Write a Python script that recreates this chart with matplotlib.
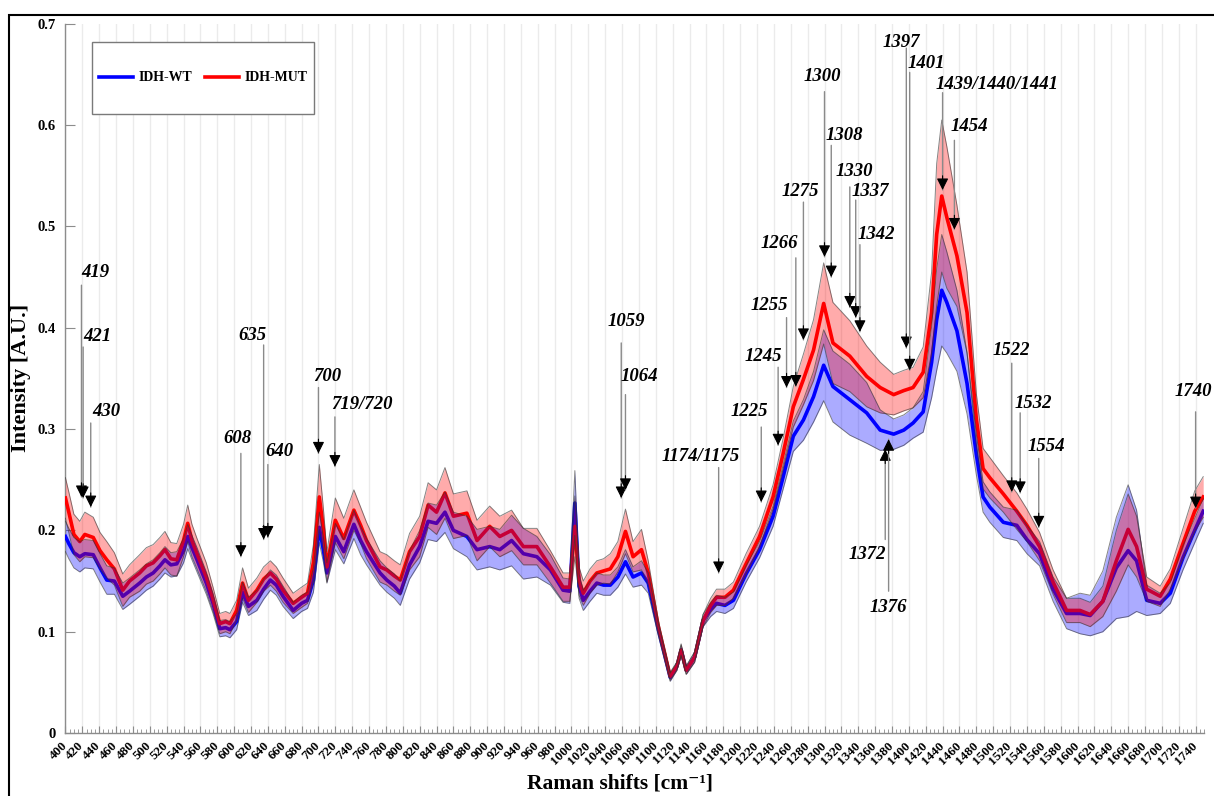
import matplotlib
matplotlib.use('Agg')
import matplotlib.pyplot as plt
from matplotlib.patches import Rectangle
from matplotlib.lines import Line2D
from matplotlib.ticker import MultipleLocator, FixedLocator

plt.rcParams['font.family'] = ['Liberation Serif', 'DejaVu Serif']
plt.rcParams['font.weight'] = 'bold'

# ---------------- data ----------------
wavenumber = [400, 404, 410, 417, 423, 433, 441, 449, 458, 468, 476, 488, 496, 504, 512, 518,
              525, 532, 540, 545, 550, 556, 567, 575, 583, 590, 595, 603, 610, 617, 627, 635,
              643, 650, 658, 670, 680, 687, 694, 701, 706, 710, 720, 730, 742, 750, 757, 773,
              781, 790, 797, 808, 820, 830, 840, 850, 860, 876, 888, 903, 915, 929, 943, 959,
              975, 990, 998, 1004, 1009, 1014, 1022, 1030, 1038, 1046, 1055, 1064, 1073, 1083,
              1091, 1103, 1117, 1125, 1130, 1136, 1146, 1156, 1165, 1172, 1182, 1192, 1207,
              1223, 1239, 1251, 1263, 1275, 1287, 1299, 1310, 1330, 1350, 1366, 1382, 1394,
              1405, 1417, 1427, 1433, 1439, 1445, 1457, 1469, 1480, 1488, 1496, 1512, 1528,
              1540, 1555, 1571, 1587, 1603, 1615, 1630, 1646, 1660, 1670, 1682, 1698, 1710,
              1725, 1739, 1749]

wt_mean = [0.194, 0.187, 0.178, 0.174, 0.177, 0.176, 0.163, 0.151, 0.150, 0.135, 0.140, 0.148,
           0.154, 0.158, 0.165, 0.171, 0.166, 0.167, 0.180, 0.194, 0.183, 0.171, 0.148, 0.128,
           0.103, 0.104, 0.102, 0.110, 0.139, 0.125, 0.131, 0.142, 0.151, 0.146, 0.135, 0.121,
           0.128, 0.131, 0.151, 0.203, 0.180, 0.158, 0.194, 0.179, 0.206, 0.190, 0.179, 0.158,
           0.151, 0.145, 0.138, 0.166, 0.184, 0.209, 0.207, 0.218, 0.200, 0.194, 0.181, 0.184,
           0.181, 0.190, 0.177, 0.174, 0.161, 0.141, 0.140, 0.227, 0.145, 0.131, 0.140, 0.148,
           0.146, 0.146, 0.154, 0.169, 0.154, 0.158, 0.148, 0.102, 0.055, 0.066, 0.082, 0.062,
           0.075, 0.111, 0.122, 0.128, 0.126, 0.131, 0.157, 0.181, 0.214, 0.253, 0.293, 0.309,
           0.332, 0.363, 0.342, 0.329, 0.316, 0.299, 0.295, 0.299, 0.306, 0.317, 0.366, 0.408,
           0.437, 0.425, 0.397, 0.345, 0.275, 0.233, 0.223, 0.208, 0.205, 0.191, 0.177, 0.142,
           0.118, 0.118, 0.116, 0.130, 0.163, 0.180, 0.170, 0.131, 0.128, 0.138, 0.173, 0.200,
           0.219]

mut_mean = [0.232, 0.218, 0.196, 0.189, 0.196, 0.193, 0.180, 0.171, 0.162, 0.141, 0.150, 0.158,
            0.165, 0.168, 0.175, 0.181, 0.172, 0.171, 0.190, 0.207, 0.190, 0.177, 0.154, 0.132,
            0.108, 0.110, 0.108, 0.121, 0.148, 0.131, 0.141, 0.152, 0.158, 0.152, 0.141, 0.128,
            0.134, 0.138, 0.168, 0.233, 0.200, 0.164, 0.210, 0.192, 0.220, 0.205, 0.190, 0.164,
            0.161, 0.155, 0.151, 0.179, 0.194, 0.225, 0.218, 0.237, 0.214, 0.217, 0.190, 0.204,
            0.194, 0.200, 0.184, 0.184, 0.164, 0.144, 0.144, 0.204, 0.150, 0.138, 0.150, 0.158,
            0.160, 0.162, 0.174, 0.199, 0.174, 0.181, 0.158, 0.105, 0.056, 0.066, 0.082, 0.062,
            0.075, 0.111, 0.126, 0.134, 0.134, 0.141, 0.167, 0.194, 0.233, 0.276, 0.322, 0.349,
            0.378, 0.424, 0.385, 0.372, 0.352, 0.341, 0.334, 0.338, 0.341, 0.356, 0.415, 0.492,
            0.530, 0.509, 0.471, 0.415, 0.310, 0.261, 0.252, 0.236, 0.219, 0.205, 0.184, 0.149,
            0.121, 0.121, 0.117, 0.130, 0.170, 0.201, 0.184, 0.142, 0.135, 0.152, 0.187, 0.219,
            0.233]

wt_sd = [0.015, 0.015, 0.015, 0.015, 0.014, 0.014, 0.014, 0.014, 0.013, 0.013, 0.013, 0.013,
         0.013, 0.013, 0.013, 0.013, 0.012, 0.012, 0.012, 0.012, 0.012, 0.012, 0.011, 0.010,
         0.008, 0.008, 0.008, 0.008, 0.010, 0.009, 0.010, 0.010, 0.010, 0.010, 0.010, 0.008,
         0.008, 0.008, 0.012, 0.015, 0.012, 0.010, 0.013, 0.012, 0.014, 0.014, 0.013, 0.012,
         0.012, 0.012, 0.012, 0.014, 0.016, 0.018, 0.018, 0.020, 0.018, 0.020, 0.020, 0.020,
         0.020, 0.025, 0.025, 0.020, 0.015, 0.012, 0.012, 0.032, 0.012, 0.010, 0.010, 0.010,
         0.010, 0.010, 0.010, 0.012, 0.010, 0.012, 0.010, 0.006, 0.004, 0.004, 0.005, 0.004,
         0.005, 0.006, 0.007, 0.008, 0.008, 0.008, 0.008, 0.008, 0.010, 0.012, 0.015, 0.020,
         0.025, 0.035, 0.035, 0.035, 0.030, 0.020, 0.015, 0.015, 0.015, 0.020, 0.035, 0.050,
         0.055, 0.050, 0.040, 0.030, 0.020, 0.015, 0.015, 0.015, 0.015, 0.014, 0.012, 0.012,
         0.015, 0.020, 0.020, 0.030, 0.050, 0.065, 0.050, 0.015, 0.010, 0.010, 0.012, 0.012,
         0.012]

mut_sd = [0.020, 0.020, 0.020, 0.020, 0.022, 0.020, 0.018, 0.018, 0.016, 0.016, 0.016, 0.018,
          0.018, 0.018, 0.018, 0.018, 0.016, 0.016, 0.016, 0.018, 0.016, 0.015, 0.014, 0.012,
          0.010, 0.010, 0.010, 0.010, 0.015, 0.012, 0.012, 0.012, 0.012, 0.012, 0.012, 0.010,
          0.010, 0.010, 0.018, 0.032, 0.020, 0.015, 0.022, 0.020, 0.020, 0.018, 0.018, 0.015,
          0.015, 0.015, 0.015, 0.018, 0.020, 0.022, 0.022, 0.025, 0.022, 0.022, 0.020, 0.020,
          0.020, 0.020, 0.018, 0.018, 0.016, 0.014, 0.014, 0.030, 0.014, 0.012, 0.012, 0.012,
          0.012, 0.015, 0.015, 0.022, 0.015, 0.020, 0.012, 0.006, 0.004, 0.004, 0.006, 0.004,
          0.005, 0.006, 0.007, 0.008, 0.008, 0.008, 0.010, 0.010, 0.012, 0.015, 0.020, 0.025,
          0.030, 0.040, 0.040, 0.035, 0.030, 0.025, 0.020, 0.020, 0.020, 0.025, 0.040, 0.070,
          0.075, 0.070, 0.050, 0.040, 0.025, 0.020, 0.020, 0.018, 0.018, 0.016, 0.014, 0.012,
          0.012, 0.012, 0.012, 0.015, 0.030, 0.035, 0.030, 0.012, 0.010, 0.010, 0.015, 0.020,
          0.020]

series_names = ['IDH-WT', 'IDH-MUT']
series_colors = ['#0000ff', '#ff0000']

x_ticks = list(range(400, 1741, 20))
y_ticks = [0, 0.1, 0.2, 0.3, 0.4, 0.5, 0.6, 0.7]
y_tick_labels = ['0', '0.1', '0.2', '0.3', '0.4', '0.5', '0.6', '0.7']

# peak annotations: label, arrow wavenumber
peak_labels = ['419', '421', '430', '608', '635', '640', '700', '719/720', '1059', '1064',
               '1174/1175', '1225', '1245', '1255', '1266', '1275', '1300', '1308', '1330',
               '1337', '1342', '1397', '1401', '1439/1440/1441', '1454', '1522', '1532',
               '1554', '1740', '1372', '1376']
peak_positions = [419, 421, 430, 608, 635, 640, 700, 719.5, 1059, 1064, 1174.5, 1225, 1245,
                  1255, 1266, 1275, 1300, 1308, 1330, 1337, 1342, 1397, 1401, 1440, 1454,
                  1522, 1532, 1554, 1740, 1372, 1376]

# layout of the annotations (text x, text y, arrow start y, arrow tip y)
ann_layout = [
    (436, 0.455, 0.442, 0.233), (438, 0.391, 0.381, 0.232), (448, 0.317, 0.306, 0.223),
    (604, 0.291, 0.276, 0.174), (622, 0.392, 0.383, 0.191), (654, 0.278, 0.265, 0.193),
    (710, 0.352, 0.341, 0.276), (752, 0.324, 0.312, 0.263), (1065, 0.406, 0.385, 0.232),
    (1080, 0.352, 0.334, 0.240), (1153, 0.273, 0.262, 0.158), (1211, 0.317, 0.302, 0.228),
    (1227, 0.372, 0.361, 0.284), (1234, 0.422, 0.410, 0.341), (1247, 0.483, 0.469, 0.342),
    (1271, 0.534, 0.524, 0.388), (1297, 0.648, 0.633, 0.470), (1323, 0.590, 0.580, 0.450),
    (1335, 0.554, 0.539, 0.420), (1354, 0.534, 0.526, 0.410), (1362, 0.492, 0.482, 0.396),
    (1391, 0.682, 0.676, 0.380), (1421, 0.661, 0.652, 0.358), (1504, 0.640, 0.632, 0.536),
    (1472, 0.599, 0.585, 0.497), (1521, 0.378, 0.365, 0.238), (1547, 0.325, 0.316, 0.237),
    (1563, 0.283, 0.271, 0.203), (1737, 0.337, 0.317, 0.222),
    (1351, 0.176, 0.191, 0.280), (1376, 0.124, 0.140, 0.290),
]

# ---------------- figure ----------------
fig = plt.figure(figsize=(12.14, 7.96), dpi=100)
ax = fig.add_axes([0.0539, 0.0791, 0.9379, 0.891])

means = [wt_mean, mut_mean]
sds = [wt_sd, mut_sd]
for m, c in zip(means, series_colors):
    ax.plot(wavenumber, m, color=c, lw=2.6, zorder=3, solid_joinstyle='round')
for m, s, c in zip(means, sds, series_colors):
    lo = [a - b for a, b in zip(m, s)]
    hi = [a + b for a, b in zip(m, s)]
    ax.fill_between(wavenumber, lo, hi, color=c, alpha=0.33, lw=0, zorder=4)
    ax.plot(wavenumber, lo, color='#333333', lw=0.7, alpha=0.6, zorder=5)
    ax.plot(wavenumber, hi, color='#333333', lw=0.7, alpha=0.6, zorder=5)

ax.set_xlim(400, 1750)
ax.set_ylim(0, 0.7)
ax.xaxis.set_major_locator(FixedLocator(x_ticks))
ax.xaxis.set_minor_locator(MultipleLocator(5))
ax.set_xticklabels([str(t) for t in x_ticks], rotation=45, ha='right', va='center',
                   rotation_mode='anchor', fontsize=9.5, fontweight='bold')
ax.set_yticks(y_ticks)
ax.set_yticklabels(y_tick_labels, fontsize=10.5, fontweight='bold')
ax.tick_params(axis='x', which='major', direction='in', length=5, color='#8c8c8c', pad=8)
ax.tick_params(axis='x', which='minor', direction='in', length=3, color='#8c8c8c')
ax.tick_params(axis='y', which='major', direction='in', length=7, color='#8c8c8c', pad=7)
ax.grid(axis='x', which='major', color='#ebebeb', lw=1.0, zorder=0)
ax.set_axisbelow(True)
for sp in ['top', 'right']:
    ax.spines[sp].set_visible(False)
for sp in ['left', 'bottom']:
    ax.spines[sp].set_color('#8c8c8c')
    ax.spines[sp].set_linewidth(1.0)

ax.set_xlabel('Raman shifts [cm\u207b\u00b9]', fontsize=15.5, fontweight='bold')
ax.xaxis.set_label_coords(0.487, -0.057)
ax.set_ylabel('Intensity [A.U.]', fontsize=16, fontweight='bold')
ax.yaxis.set_label_coords(-0.030, 0.5)

# annotations
for lab, pos, (tx, ty, y0, y1) in zip(peak_labels, peak_positions, ann_layout):
    ax.text(tx, ty, lab, fontsize=13.5, fontstyle='italic', fontweight='bold',
            ha='center', va='center', zorder=10, clip_on=False)
    ax.annotate('', xy=(pos, y1), xytext=(pos, y0),
                arrowprops=dict(arrowstyle='-', color='#8a8a8a', lw=1.0,
                                shrinkA=0, shrinkB=0), zorder=9)
    d = 0.014 if y1 < y0 else -0.014
    ax.annotate('', xy=(pos, y1), xytext=(pos, y1 + d),
                arrowprops=dict(arrowstyle='-|>,head_length=0.5,head_width=0.25',
                                color='black', lw=0.8, mutation_scale=14,
                                shrinkA=0, shrinkB=0), zorder=9)

# legend with a framed box
ax.add_patch(Rectangle((0.0234, 0.8728), 0.1949, 0.1015, transform=ax.transAxes,
                       fill=True, facecolor='white', edgecolor='#7a7a7a', lw=1.0, zorder=11))
handles = [Line2D([], [], color=c, lw=2.6) for c in series_colors]
ax.legend(handles, series_names, loc='center', bbox_to_anchor=(0.1208, 0.9236), ncol=2,
          frameon=False, prop={'weight': 'bold', 'size': 10}, handlelength=2.5,
          handletextpad=0.35, columnspacing=0.9).set_zorder(12)

# outer frame
fig.patches.append(Rectangle((9 / 1214, -0.05), 1.2, (796 - 15) / 796 + 0.05,
                             transform=fig.transFigure, fill=False, edgecolor='black',
                             lw=1.5))

fig.savefig('out.png', dpi=100)
